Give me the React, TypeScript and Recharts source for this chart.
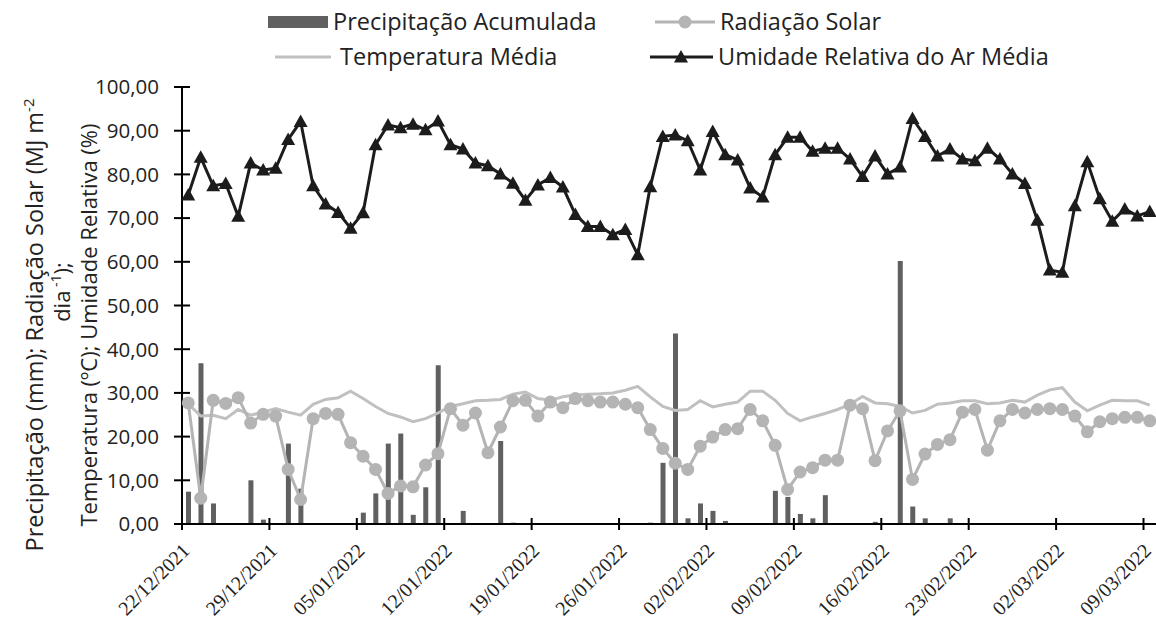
import React from "react";
import {
  ComposedChart,
  Bar,
  Line,
  XAxis,
  YAxis,
} from "recharts";

// daily series, 22/12/2021 .. 09/03/2022 (78 days)
const precipitacao = [
  7.4, 36.8, 4.7, 0, 0, 10.0, 1.0, 0, 18.4, 8.1,
  0, 0, 0, 0, 2.6, 7.0, 18.4, 20.7, 2.1, 8.4,
  36.3, 0, 3.0, 0, 0, 19.0, 0.3, 0, 0, 0,
  0, 0, 0, 0, 0, 0, 0, 0.3, 14.0, 43.6,
  1.3, 4.7, 3.0, 0.7, 0, 0, 0, 7.6, 6.2, 2.3,
  1.3, 6.6, 0, 0, 0, 0.5, 0, 60.2, 4.0, 1.3,
  0, 1.3, 0, 0, 0, 0, 0, 0, 0, 0,
  0, 0, 0, 0, 0, 0, 0, 0,
];

const radiacao = [
  27.7, 5.9, 28.3, 27.6, 28.9, 23.1, 25.1, 24.7, 12.5, 5.6,
  24.1, 25.3, 25.1, 18.6, 15.5, 12.5, 7.0, 8.7, 8.5, 13.5,
  16.1, 26.4, 22.6, 25.4, 16.3, 22.2, 28.2, 28.3, 24.7, 27.9,
  26.6, 28.7, 28.2, 27.9, 27.9, 27.4, 26.6, 21.6, 17.3, 13.9,
  12.5, 17.8, 19.9, 21.6, 21.8, 26.2, 23.6, 18.0, 7.9, 11.9,
  12.9, 14.6, 14.6, 27.2, 26.4, 14.5, 21.3, 25.9, 10.2, 16.0,
  18.2, 19.3, 25.6, 26.2, 16.9, 23.6, 26.2, 25.4, 26.2, 26.4,
  26.2, 24.7, 21.1, 23.4, 24.1, 24.4, 24.4, 23.6,
];

const temperatura = [
  27.5, 24.7, 24.9, 24.1, 26.2, 24.9, 25.6, 26.4, 25.6, 24.9,
  27.4, 28.5, 28.9, 30.4, 28.7, 26.9, 25.3, 24.5, 23.4, 24.1,
  25.4, 26.9, 27.5, 28.2, 28.3, 28.5, 29.7, 30.2, 28.7, 28.3,
  29.1, 29.5, 29.7, 29.8, 30.0, 30.6, 31.5, 29.1, 26.9, 26.0,
  26.2, 28.2, 26.8, 27.4, 27.9, 30.4, 30.4, 28.3, 25.3, 23.6,
  24.5, 25.3, 26.2, 27.4, 29.2, 27.7, 27.5, 26.9, 25.4, 26.0,
  27.4, 27.7, 28.2, 28.2, 27.5, 27.7, 28.3, 27.9, 29.5, 30.7,
  31.2, 27.9, 25.9, 27.2, 28.3, 28.2, 28.2, 27.2,
];

const umidade = [
  75.3, 83.9, 77.4, 77.9, 70.4, 82.6, 81.0, 81.4, 88.0, 92.1,
  77.4, 73.2, 71.3, 67.7, 71.2, 86.8, 91.3, 90.7, 91.5, 90.2,
  92.2, 86.8, 85.8, 82.6, 82.0, 80.1, 78.0, 74.1, 77.6, 79.3,
  77.1, 70.8, 68.1, 68.1, 66.2, 67.4, 61.6, 77.2, 88.7, 89.0,
  87.7, 81.0, 89.8, 84.5, 83.3, 76.9, 74.8, 84.5, 88.5, 88.5,
  85.3, 86.0, 86.0, 83.5, 79.5, 84.2, 80.1, 81.7, 92.8, 88.7,
  84.2, 85.8, 83.5, 83.1, 86.0, 83.5, 80.1, 77.9, 69.5, 58.1,
  57.6, 72.8, 82.9, 74.4, 69.3, 72.1, 70.5, 71.5,
];

// one label every 7 days, at the left edge of that day
const dateTicks = [0, 7, 14, 21, 28, 35, 42, 49, 56, 63, 70, 77];
const dateLabels = [
  "22/12/2021", "29/12/2021", "05/01/2022", "12/01/2022",
  "19/01/2022", "26/01/2022", "02/02/2022", "09/02/2022",
  "16/02/2022", "23/02/2022", "02/03/2022", "09/03/2022",
];
const yTicks = [0, 10, 20, 30, 40, 50, 60, 70, 80, 90, 100];

const data = umidade.map((u, i) => ({
  x: i + 0.5,
  precipitacao: precipitacao[i],
  radiacao: radiacao[i],
  temperatura: temperatura[i],
  umidade: u,
}));

const SANS = "'Open Sans', sans-serif";
const SERIF = "'Liberation Serif', serif";
const BAR = "#606060";
const RAD = "#b4b4b4";
const TEMP = "#c0c0c0";
const HUM = "#1c1c1c";

const fmt = (v: number) => v.toFixed(2).replace(".", ",");

function YTick(props: any) {
  const { x, y, payload } = props;
  const ax = x + 8;
  return (
    <g>
      <line x1={ax - 8} x2={ax + 8} y1={y} y2={y} stroke="#000" strokeWidth={2} />
      <text x={ax - 23} y={y} dy="0.36em" textAnchor="end" fontFamily={SANS} fontSize={20.5} fill="#222">
        {fmt(payload.value)}
      </text>
    </g>
  );
}

function XTick(props: any) {
  const { x, y, payload } = props;
  const ay = y - 6;
  const idx = dateTicks.indexOf(payload.value);
  const tx = x + 4;
  const ty = ay + 23;
  return (
    <g>
      <line x1={x} x2={x} y1={ay - 6} y2={ay + 6} stroke="#000" strokeWidth={2} />
      <text
        x={tx}
        y={ty}
        dy="0.35em"
        textAnchor="end"
        transform={`rotate(-45 ${tx} ${ty})`}
        fontFamily={SERIF}
        fontSize={20}
        fill="#222"
      >
        {dateLabels[idx]}
      </text>
    </g>
  );
}

function Triangle(props: any) {
  const { cx, cy, index } = props;
  if (cx == null || cy == null) return null;
  return (
    <path
      key={index}
      d={`M${cx},${cy - 7} L${cx + 7},${cy + 5.5} L${cx - 7},${cy + 5.5} Z`}
      fill={HUM}
    />
  );
}

function YTitle() {
  return (
    <g fontFamily={SANS} fill="#222">
      <text transform="translate(43 325) rotate(-90)" textAnchor="middle" fontSize={23.5}>
        Precipitação (mm); Radiação Solar (MJ m
        <tspan dy={-9} fontSize={15}>-2</tspan>
      </text>
      <text transform="translate(70 292) rotate(-90)" textAnchor="middle" fontSize={22}>
        dia
        <tspan dy={-9} fontSize={14}> -1</tspan>
        <tspan dy={9}>);</tspan>
      </text>
      <text transform="translate(97 325) rotate(-90)" textAnchor="middle" fontSize={22}>
        Temperatura (ºC); Umidade Relativa (%)
      </text>
    </g>
  );
}

function LegendBox() {
  return (
    <svg
      width={1156}
      height={80}
      style={{ position: "absolute", left: 0, top: 0, pointerEvents: "none" }}
    >
      <g fontFamily={SANS} fontSize={23.5} fill="#222">
        <rect x={268} y={16} width={60} height={12} fill={BAR} />
        <text x={333} y={22} dy="0.36em">Precipitação Acumulada</text>

        <line x1={655} x2={715} y1={22} y2={22} stroke={RAD} strokeWidth={3} />
        <circle cx={685} cy={22} r={6.5} fill={RAD} />
        <text x={720} y={22} dy="0.36em">Radiação Solar</text>

        <line x1={275} x2={331} y1={57} y2={57} stroke={TEMP} strokeWidth={3} />
        <text x={340} y={57} dy="0.36em">Temperatura Média</text>

        <line x1={650} x2={713} y1={57} y2={57} stroke={HUM} strokeWidth={3} />
        <path d="M681,50 L688,62.5 L674,62.5 Z" fill={HUM} />
        <text x={718} y={57} dy="0.36em">Umidade Relativa do Ar Média</text>
      </g>
    </svg>
  );
}

export default function App() {
  return (
    <div style={{ position: "absolute", left: 0, top: 0, width: 1156, height: 618, background: "#fff" }}>
      <ComposedChart
        width={1156}
        height={618}
        data={data}
        margin={{ top: 87, right: 0, bottom: 0, left: 0 }}
      >
        <XAxis
          dataKey="x"
          type="number"
          domain={[0, 78]}
          ticks={dateTicks}
          interval={0}
          height={94}
          tickLine={false}
          tickSize={6}
          tickMargin={0}
          axisLine={{ stroke: "#000", strokeWidth: 2 }}
          tick={<XTick />}
        />
        <YAxis
          domain={[0, 100]}
          ticks={yTicks}
          interval={0}
          width={182}
          tickLine={false}
          tickSize={8}
          tickMargin={0}
          axisLine={{ stroke: "#000", strokeWidth: 2 }}
          tick={<YTick />}
          label={<YTitle />}
        />
        <Bar dataKey="precipitacao" fill={BAR} barSize={5} isAnimationActive={false} />
        <Line
          dataKey="temperatura"
          stroke={TEMP}
          strokeWidth={3}
          dot={false}
          activeDot={false}
          type="linear"
          isAnimationActive={false}
        />
        <Line
          dataKey="radiacao"
          stroke={RAD}
          strokeWidth={3}
          dot={{ r: 6.5, fill: RAD, stroke: "none" }}
          activeDot={false}
          type="linear"
          isAnimationActive={false}
        />
        <Line
          dataKey="umidade"
          stroke={HUM}
          strokeWidth={3}
          dot={<Triangle />}
          activeDot={false}
          type="linear"
          isAnimationActive={false}
        />
      </ComposedChart>
      <LegendBox />
    </div>
  );
}
